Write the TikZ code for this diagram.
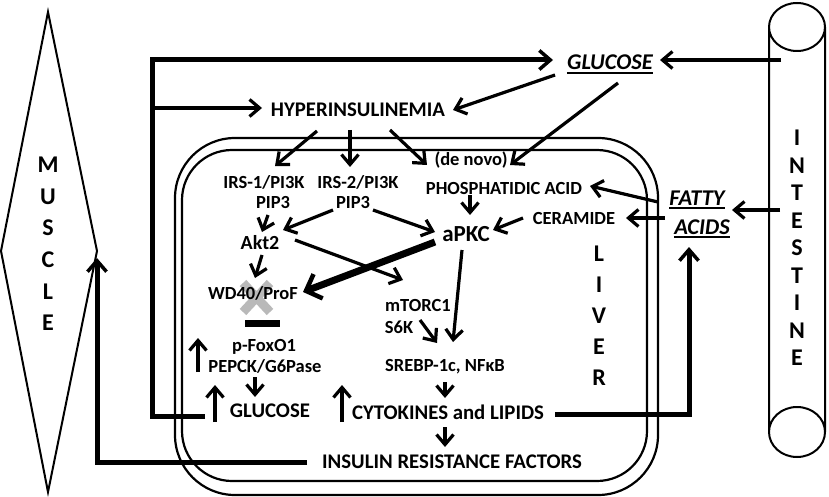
\documentclass[tikz,border=0pt]{standalone}
\usepackage{fontspec}
\setmainfont{Carlito}
\usetikzlibrary{arrows.meta}
\tikzstyle{txt} = [inner sep=0pt, anchor=base, font=\bfseries\fontsize{18.5}{20}\selectfont]
\tikzstyle{bigtxt} = [txt, font=\bfseries\fontsize{20.8}{22}\selectfont]
\tikzstyle{srctxt} = [txt, font=\bfseries\itshape\fontsize{22.5}{24}\selectfont]
\tikzstyle{line} = [draw, line width=3.2pt, -{Straight Barb[length=10pt,width=17pt]}]
\tikzstyle{heavy} = [line, line width=5pt, -{Straight Barb[length=11pt,width=19pt,line width=3.5pt]}]
\tikzstyle{fat} = [draw, line width=7pt, -{Straight Barb[length=13pt,width=26pt,line width=4.5pt]}]
\tikzstyle{rim} = [draw, line width=2pt]
\tikzset{organ/.style={inner sep=0pt, align=center, font=\bfseries\fontsize{24}{#1}\selectfont}}

\begin{document}
\begin{tikzpicture}[x=1pt, y=-1pt]
    \useasboundingbox (0,0) rectangle (829,497);
    \draw [rim] (48,12) -- (97,251) -- (48,492) -- (1,251) -- cycle;
    \coordinate (musR) at (97,251);
    \draw [rim] (797,27) ellipse (28 and 24) (797,432) ellipse (28 and 25)
        (769,27) -- (769,432) (825,27) -- (825,432);
    \coordinate (gutG) at (781,60);
    \coordinate (gutF) at (780,210);
    \draw [rim, line width=2.2pt, rounded corners=60pt] (175,138) rectangle (658,495);
    \draw [rim, line width=2.2pt, rounded corners=50pt] (182,150) rectangle (647,481);
    \draw [gray!55, line width=9pt] (243,283) -- (270,312) (270,283) -- (243,312);
    \fill (245,320) rectangle (280,327);

    \node [organ=31.6] (muscle) at (48,244) {M\\U\\S\\C\\L\\E};
    \node [organ=27.5] (intestine) at (797,248) {I\\N\\T\\E\\S\\T\\I\\N\\E};
    \node [organ=31] (liver) at (599,316) {L\\I\\V\\E\\R};

    \node [srctxt] (gluc) at (610,70) {GLUCOSE};
    \node [srctxt] (fatty) at (697,205) {FATTY};
    \node [srctxt] (acids) at (702,234) {ACIDS};
    \node [bigtxt] (hyper) at (358,117) {HYPERINSULINEMIA};
    \node [txt] (irs1) at (264,189) {IRS-1/PI3K};
    \node [txt] (pipa) at (273,208) {PIP3};
    \node [txt] (irs2) at (358,189) {IRS-2/PI3K};
    \node [txt] (pipb) at (353,208) {PIP3};
    \node [txt] (denovo) at (471,166) {(de novo)};
    \node [txt] (phos) at (504,194) {PHOSPHATIDIC ACID};
    \node [txt] (ceram) at (574,224) {CERAMIDE};
    \node [txt, font=\bfseries\fontsize{23}{24}\selectfont] (apkc) at (466,241) {aPKC};
    \node [txt, font=\bfseries\fontsize{20}{22}\selectfont] (akt) at (260,249) {Akt2};
    \node [txt] (wd) at (253,299) {WD40/ProF};
    \node [txt] (foxo) at (264,351) {p-FoxO1};
    \node [txt] (pepck) at (265,372) {PEPCK/G6Pase};
    \node [txt] (mtor) at (418,311) {mTORC1};
    \node [txt] (s6k) at (399,333) {S6K};
    \node [txt] (srebp) at (445,371) {SREBP-1c, NFκB};
    \node [bigtxt] (glucl) at (270,417) {GLUCOSE};
    \node [bigtxt] (cyto) at (448,419) {CYTOKINES and LIPIDS};
    \node [bigtxt] (irf) at (452,468) {INSULIN RESISTANCE FACTORS};

    \draw [line width=1.5pt] ([shift={(0,3)}]gluc.base west) -- ([shift={(0,3)}]gluc.base east);
    \draw [line width=1.5pt] ([shift={(0,3)}]fatty.base west) -- ([shift={(0,3)}]fatty.base east);
    \draw [line width=1.5pt] ([shift={(0,3)}]acids.base west) -- ([shift={(0,3)}]acids.base east);

    \path [line] (gutG) -- ([shift={(50,-10)}]gluc.base);
    \path [heavy] ([shift={(-65,-1)}]glucl.base) -| ([shift={(-458,-10)}]gluc.base) coordinate (lp)
        -- ([shift={(-57,-10)}]gluc.base);
    \path [line] (lp) ++(0,48) -- ([shift={(-96,-9)}]hyper.base);
    \path [line] ([shift={(-55,5)}]gluc.base) -- ([shift={(95,-7)}]hyper.base);
    \path [line] ([shift={(8,13)}]gluc.base) -- ([shift={(39,-1)}]denovo.base);
    \path [line] ([shift={(-41,14)}]hyper.base) -- ([shift={(11,-23)}]irs1.base);
    \path [line] ([shift={(-8,13)}]hyper.base) -- ([shift={(-8,-22)}]irs2.base);
    \path [line] ([shift={(32,13)}]hyper.base) -- ([shift={(-44,-1)}]denovo.base);
    \path [line] ([shift={(-5,7)}]pipa.base) -- ([shift={(2,-17)}]akt.base);
    \path [line] ([shift={(-20,2)}]pipb.base) -- ([shift={(23,-19)}]akt.base);
    \path [line] ([shift={(20,2)}]pipb.base) -- ([shift={(-31,-9)}]apkc.base);
    \path [line] ([shift={(-34,1)}]phos.base) -- ([shift={(4,-26)}]apkc.base);
    \path [line] ([shift={(-51,-6)}]ceram.base) -- ([shift={(27,-11)}]apkc.base);
    \path [line] ([shift={(-39,-3)}]fatty.base) -- ([shift={(86,-8)}]phos.base);
    \path [line] ([shift={(-32,13)}]fatty.base) -- ([shift={(52,-6)}]ceram.base);
    \path [line] (gutF) -- ([shift={(35,5)}]fatty.base);
    \path [line] ([shift={(2,6)}]akt.base) -- ([shift={(2,-21)}]wd.base);
    \path [line] ([shift={(35,-9)}]akt.base) -- ([shift={(-15,-31)}]mtor.base);
    \path [fat] ([shift={(-31,1)}]apkc.base) -- ([shift={(50,-7)}]wd.base);
    \path [line] ([shift={(-4,9)}]apkc.base) -- ([shift={(8,-29)}]srebp.base);
    \path [line] ([shift={(21,-13)}]s6k.base) -- ([shift={(-8,-28)}]srebp.base);
    \path [line] ([shift={(0,11)}]srebp.base) -- ([shift={(-3,-21)}]cyto.base);
    \path [line] ([shift={(-3,8)}]cyto.base) -- ([shift={(-7,-21)}]irf.base);
    \path [line] ([shift={(-10,5)}]pepck.base) -- ([shift={(-15,-20)}]glucl.base);
    \path [line] ([shift={(-67,0)}]pepck.base) -- ([shift={(-67,-34)}]pepck.base);
    \path [line] ([shift={(-55,5)}]glucl.base) -- ([shift={(-55,-32)}]glucl.base);
    \path [line] ([shift={(-106,3)}]cyto.base) -- ([shift={(-106,-34)}]cyto.base);
    \path [heavy] ([shift={(-145,-6)}]irf.base) -| ([shift={(0,7)}]musR);
    \path [heavy] ([shift={(107,-5)}]cyto.base) -| ([shift={(-13,13)}]acids.base);
\end{tikzpicture}
\end{document}
